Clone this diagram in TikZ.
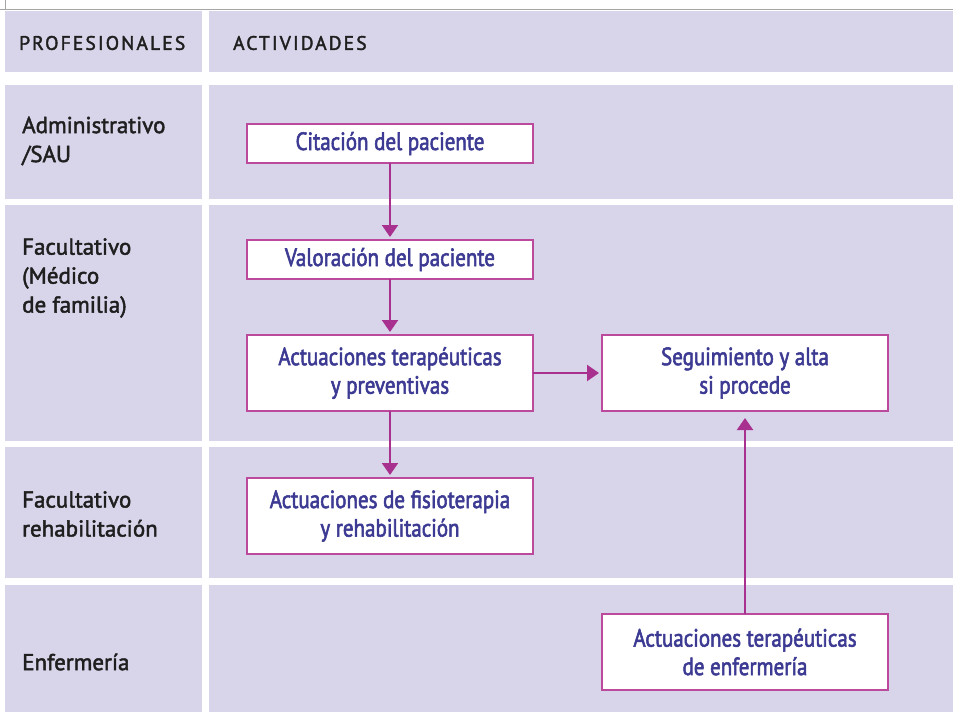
\documentclass[tikz,border=0pt]{standalone}
\usepackage{fontspec}
\setmainfont{PT Sans}[FakeBold=1]
\newfontfamily\rolfont[FakeBold=2]{PT Sans}
\newfontfamily\boxfont[FakeStretch=0.84,FakeBold=2.2]{PT Sans}
\newfontfamily\headfont[LetterSpace=11,FakeBold=2]{PT Sans}
\usepackage{xcolor}
\usetikzlibrary{positioning,arrows.meta}
\definecolor{lila}{HTML}{D8D4EA}
\definecolor{tinta}{HTML}{3C3A92}
\definecolor{flecha}{HTML}{A8318F}
\definecolor{borde}{HTML}{BB4A9C}

\begin{document}
\begin{tikzpicture}[
  x=1pt,y=-1pt,
  box/.style={draw=borde,line width=1.6pt,fill=white,align=center,text=tinta,outer sep=0pt,
    font=\boxfont\fontsize{25}{28.5}\selectfont,minimum width=286pt,inner sep=0pt},
  uno/.style={box,minimum height=39pt},
  dos/.style={box,minimum height=76pt},
  rol/.style={anchor=west,align=left,inner sep=0pt,text=black!88,font=\rolfont\fontsize{23}{29}\selectfont},
  cab/.style={anchor=west,inner sep=0pt,font=\headfont\fontsize{19.5}{22}\selectfont,text=black!88},
  flow/.style={->,draw=flecha,line width=2.1pt,shorten >=3pt},
  >={Triangle[width=16pt,length=12pt]}]
\useasboundingbox (0,0) rectangle (953,712);
\draw[black!35,line width=1pt] (5,0) -- (5,9.5) (0,9.5) -- (953,9.5);
\foreach \ya/\yb in {11/72,85/199,205/441,447/578,585/712}{
  \fill[lila] (5,\ya) rectangle (202,\yb);
  \fill[lila] (209,\ya) rectangle (953,\yb);}
\node[cab] (hprof) at (19,43) {PROFESIONALES};
\node[cab] (hact) at (233,43) {ACTIVIDADES};
\node[rol] (radm) at (22,141) {Administrativo\\/SAU};
\node[rol] (rfac) at (22,278) {Facultativo\\(Médico\\de familia)};
\node[rol] (rreh) at (22,514) {Facultativo\\rehabilitación};
\node[rol] (renf) at (22,662) {Enfermería};
\node[uno] (cita) at (390,143.5) {Citación del paciente};
\node[uno,below=77pt of cita] (valora) {Valoración del paciente};
\node[dos,below=56pt of valora] (terap) {Actuaciones terapéuticas\\y preventivas};
\node[dos,right=69pt of terap] (segui) {Seguimiento y alta\\si procede};
\node[dos,below=67pt of terap] (fisio) {Actuaciones de fisioterapia\\y rehabilitación};
\node[dos,below=203pt of segui] (enfer) {Actuaciones terapéuticas\\de enfermería};
\draw[flow] (cita) -- (valora);
\draw[flow] (valora) -- (terap);
\draw[flow] (terap) -- (fisio);
\draw[flow] (terap) -- (segui);
\draw[flow,shorten >=7pt] (enfer) -- (segui);
\end{tikzpicture}
\end{document}
